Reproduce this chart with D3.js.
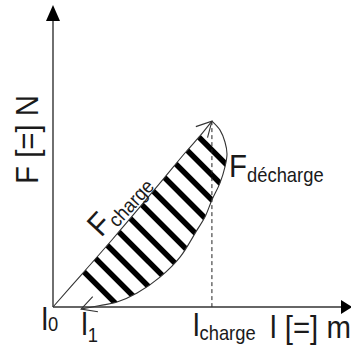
<!DOCTYPE html>
<html lang="fr">
<head>
    <meta charset="UTF-8">
    <title>Hystérésis charge / décharge</title>
    <script src="https://cdn.jsdelivr.net/npm/d3@7"></script>
    <style>
        body { margin: 0; background: #fff; }
        text { font-family: "Liberation Sans", Arial, sans-serif; fill: #1a1a1a; }
    </style>
</head>
<body>
<script>
    // courbe de charge (montée) : l, F
    const chargeL = [0, 10.3, 20.3, 30.0, 38.6, 45.5, 50.7, 54.8];
    const chargeF = [0, 11.7, 23.1, 34.5, 44.8, 53.1, 59.0, 64.1];
    // courbe de décharge (retour)
    const dechargeL = [54.8, 57.6, 59.3, 60.0, 59.3, 57.6, 54.8, 52.4, 49.7, 43.8, 36.9, 29.0, 22.1, 16.2, 9.7];
    const dechargeF = [64.1, 61.0, 56.9, 52.8, 48.3, 42.8, 36.9, 31.0, 26.6, 17.2, 10.3, 4.8, 1.7, 0.5, -0.7];
    // hachures : droites l + F = s
    const hatchSums = [22.8, 31.4, 40.0, 48.6, 57.2, 65.9, 74.5, 83.1, 91.7, 100.3, 108.9];
    // repères sur l'axe des l
    const tickNames = ['0', '1', 'charge'];
    const tickValues = [0, 9.7, 54.8];

    const width = 351, height = 348;
    const svg = d3.select('body').append('svg').attr('width', width).attr('height', height);

    const x = d3.scaleLinear().domain([0, 100]).range([53, 343]);
    const y = d3.scaleLinear().domain([0, 100]).range([307, 17]);

    const charge = chargeL.map((l, i) => ({ l: l, f: chargeF[i] }));
    const decharge = dechargeL.map((l, i) => ({ l: l, f: dechargeF[i] }));

    const line = d3.line().x(d => x(d.l)).y(d => y(d.f)).curve(d3.curveCatmullRom.alpha(0.5));

    // zone hachurée
    svg.append('clipPath').attr('id', 'lens')
        .append('path')
        .attr('d', line(charge) + line(decharge).replace(/^M/, 'L') + 'Z');

    svg.append('g').attr('clip-path', 'url(#lens)')
        .selectAll('line').data(hatchSums).join('line')
        .attr('x1', s => x(s / 2 - 30)).attr('y1', s => y(s / 2 + 30))
        .attr('x2', s => x(s / 2 + 30)).attr('y2', s => y(s / 2 - 30))
        .attr('stroke', '#000').attr('stroke-width', 5.5);

    // pointillé l_charge
    const peak = charge[charge.length - 1];
    svg.append('line')
        .attr('x1', x(peak.l)).attr('x2', x(peak.l))
        .attr('y1', y(peak.f)).attr('y2', y(0))
        .attr('stroke', '#222').attr('stroke-width', 1)
        .attr('stroke-dasharray', '4,3');

    // courbes
    [charge, decharge].forEach(d => {
        svg.append('path').attr('d', line(d))
            .attr('fill', 'none').attr('stroke', '#333').attr('stroke-width', 1.1);
    });

    // pointes de flèches ouvertes
    function arrowHead(p, dirDeg) {
        const tx = x(p.l), ty = y(p.f), len = 17, spread = 28;
        const back = (dirDeg + 180) * Math.PI / 180;
        const pts = [-spread, spread].map(a => {
            const r = back + a * Math.PI / 180;
            return [tx + len * Math.cos(r), ty + len * Math.sin(r)];
        });
        svg.append('path')
            .attr('d', `M${pts[0]}L${tx},${ty}L${pts[1]}`)
            .attr('fill', 'none').attr('stroke', '#333').attr('stroke-width', 1.1);
    }
    arrowHead(peak, -47);
    arrowHead(decharge[decharge.length - 1], 161);

    // axes
    svg.append('line').attr('x1', x(0)).attr('x2', x(100)).attr('y1', y(0)).attr('y2', y(0))
        .attr('stroke', '#333').attr('stroke-width', 1.4);
    svg.append('line').attr('x1', x(0)).attr('x2', x(0)).attr('y1', y(0)).attr('y2', y(100))
        .attr('stroke', '#333').attr('stroke-width', 1.4);
    svg.append('path')
        .attr('d', `M${x(100) - 2},${y(0) - 7}L${x(100) + 9},${y(0)}L${x(100) - 2},${y(0) + 7}Z`)
        .attr('fill', '#000');
    svg.append('path')
        .attr('d', `M${x(0) - 7},${y(100) + 4}L${x(0)},${y(100) - 12}L${x(0) + 7},${y(100) + 4}Z`)
        .attr('fill', '#000');

    // textes
    function label(px, py, rot, main, sub, subDy) {
        const t = svg.append('g')
            .attr('transform', `translate(${px},${py}) rotate(${rot}) scale(0.92,1)`)
            .append('text').attr('font-size', 32);
        t.append('tspan').text(main);
        if (sub) t.append('tspan').attr('font-size', 20).attr('dy', subDy).text(sub);
    }

    label(37.5, 184, -90, 'F [=] N');
    label(270, 338, 0, 'l [=] m');

    const tickPos = [[-11.5, 330, 1], [0, 335, 7], [-19, 336, 4]];
    tickValues.forEach((v, i) => {
        label(x(v) + tickPos[i][0], tickPos[i][1], 0, 'l', tickNames[i], tickPos[i][2]);
    });

    label(229, 177, 0, 'F', 'décharge', 5);
    label(101, 238, -47, 'F', 'charge', 5);
</script>
</body>
</html>
